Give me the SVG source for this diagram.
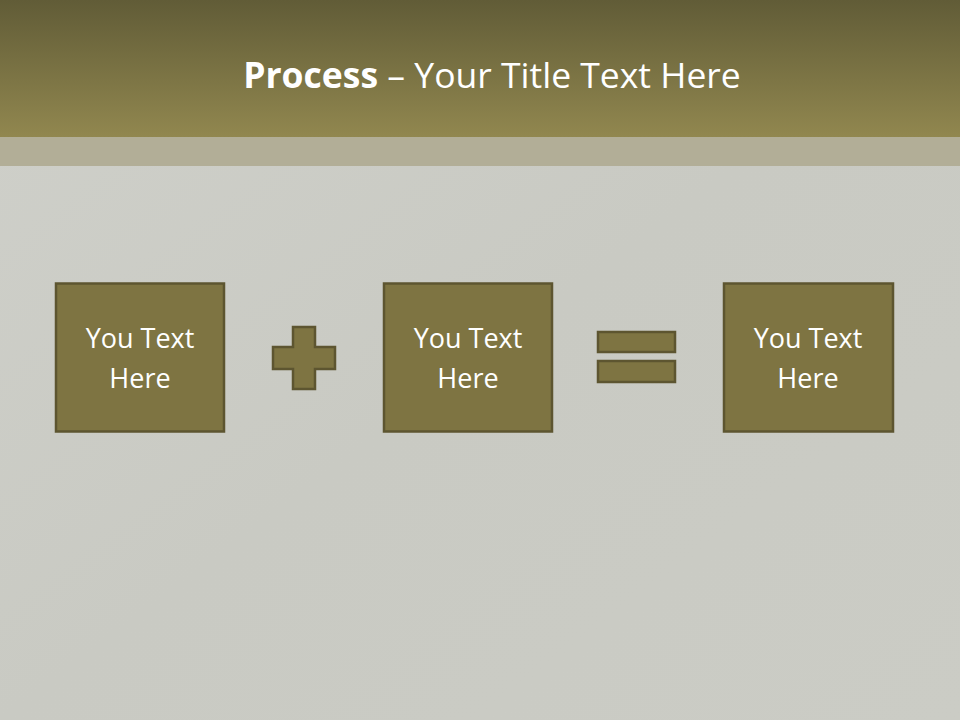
<svg xmlns="http://www.w3.org/2000/svg" width="960" height="720" viewBox="0 0 960 720">
<defs>
<linearGradient id="hdr" x1="0" y1="0" x2="0" y2="1">
<stop offset="0" stop-color="#615c37"/>
<stop offset="1" stop-color="#91874f"/>
</linearGradient>
<linearGradient id="bg" x1="0" y1="0" x2="1" y2="1">
<stop offset="0" stop-color="#cfd0ca"/>
<stop offset="0.5" stop-color="#c9cac3"/>
<stop offset="1" stop-color="#cbccc5"/>
</linearGradient>
</defs>
<style>
.box{fill:#7e7442;stroke:#5d5530;stroke-width:2.5}
.sym{fill:#7e7442;stroke:#5d5530;stroke-width:2.5;stroke-linejoin:miter}
.lbl{font-family:"Open Sans","Liberation Sans",sans-serif;font-size:27px;fill:#ffffff;text-anchor:middle}
.ttl{font-family:"Open Sans","Liberation Sans",sans-serif;font-size:35.5px;fill:#ffffff;text-anchor:middle}
</style>
<rect x="0" y="0" width="960" height="720" fill="url(#bg)"/>
<rect x="0" y="0" width="960" height="137" fill="url(#hdr)"/>
<rect x="0" y="137" width="960" height="29" fill="#b2ae97"/>
<text class="ttl" x="492" y="88"><tspan font-weight="bold">Process</tspan> – Your Title Text Here</text>
<g id="node1">
<rect class="box" x="56" y="283.5" width="168" height="148"/>
<text class="lbl" x="140" y="348">You Text</text>
<text class="lbl" x="140" y="388">Here</text>
</g>
<g id="plus">
<path class="sym" d="M293 327 H315 V347 H335 V369 H315 V389 H293 V369 H273 V347 H293 Z"/>
</g>
<g id="node2">
<rect class="box" x="384" y="283.5" width="168" height="148"/>
<text class="lbl" x="468" y="348">You Text</text>
<text class="lbl" x="468" y="388">Here</text>
</g>
<g id="equals">
<rect class="sym" x="598" y="332" width="77" height="20"/>
<rect class="sym" x="598" y="361" width="77" height="21"/>
</g>
<g id="node3">
<rect class="box" x="724" y="283.5" width="169" height="148"/>
<text class="lbl" x="808" y="348">You Text</text>
<text class="lbl" x="808" y="388">Here</text>
</g>
<g id="connectors"/>
</svg>
